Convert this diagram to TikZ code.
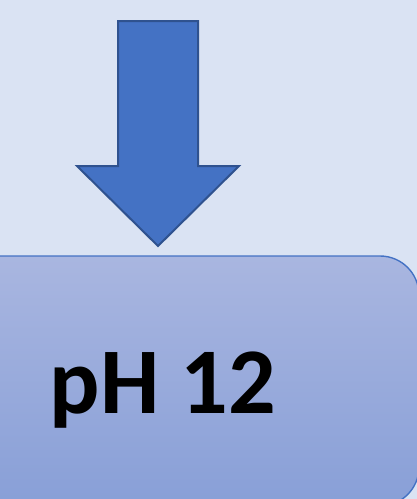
\documentclass[tikz,border=0pt]{standalone}
\usepackage{fontspec}
\setmainfont{Carlito}
\definecolor{bg}{RGB}{218,227,243}
\definecolor{accent}{RGB}{68,114,196}
\definecolor{accentdark}{RGB}{47,82,143}
\definecolor{boxtop}{RGB}{169,182,224}
\definecolor{boxbot}{RGB}{136,159,215}
\begin{document}
\begin{tikzpicture}[x=1pt,y=-1pt,
  blockarrow/.style={fill=accent,draw=accentdark,line width=2pt,line join=miter},
  phbox/.style={top color=boxtop,bottom color=boxbot,draw=accent,line width=1.4pt,rounded corners=39pt},
  label/.style={font=\bfseries\fontsize{94}{100}\selectfont,inner sep=0pt,anchor=base}]
\useasboundingbox (0,0) rectangle (417,499);
\clip (0,0) rectangle (417,499);
\fill[bg] (0,0) rectangle (417,499);
% block arrow
\draw[blockarrow] (118,21) -- (198,21) -- (198,166) -- (239,166) -- (158,246) -- (77,166) -- (118,166) -- cycle;
% rounded box
\draw[phbox] (-60,256) rectangle (419,506);
\node[label] (ph) at (163,413) {pH 12};
\end{tikzpicture}
\end{document}
